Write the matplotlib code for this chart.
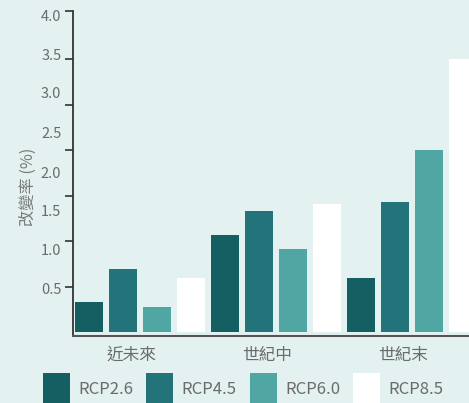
import matplotlib.pyplot as plt
from matplotlib.patches import Rectangle

plt.rcParams['font.family'] = ['Noto Sans CJK TC', 'DejaVu Sans']

# 資料
periods = ['近未來', '世紀中', '世紀末']
scenarios = ['RCP2.6', 'RCP4.5', 'RCP6.0', 'RCP8.5']
rcp26 = [0.33, 1.07, 0.60]
rcp45 = [0.70, 1.33, 1.43]
rcp60 = [0.28, 0.91, 2.00]
rcp85 = [0.60, 1.41, 3.00]
series = [rcp26, rcp45, rcp60, rcp85]
colors = ['#155f63', '#22737a', '#50a6a2', '#ffffff']

# y 軸：刻度線與標籤位置不一致（照原圖）
tick_lines = [0.5, 1.0, 1.5, 2.0, 2.5, 3.0, 3.533]
tick_texts = ['0.5', '1.0', '1.5', '2.0', '2.5', '3.0', '3.5', '4.0']
tick_text_pos = [0.48, 0.91, 1.34, 1.76, 2.19, 2.63, 3.05, 3.48]

bg = '#e3f1f0'
txt = '#6b6b6b'

fig = plt.figure(figsize=(4.69, 4.03), dpi=100, facecolor=bg)
W, H = 469, 403
x0, x1 = 72.5, 483.4
y0, y1 = 335.5, 10.7
ax = fig.add_axes([x0 / W, 1 - y0 / H, (x1 - x0) / W, (y0 - y1) / H])
ax.set_facecolor(bg)

n = len(scenarios)
for j, vals in enumerate(series):
    xs = [i * n + j for i in range(len(periods))]
    ax.bar(xs, vals, width=0.82, color=colors[j], zorder=2)

ax.set_xlim(-0.485, 11.6)
ax.set_ylim(-0.036, 3.533)

for s in ['top', 'right']:
    ax.spines[s].set_visible(False)
ax.spines['left'].set_color('#333333')
ax.spines['left'].set_linewidth(1.3)
ax.spines['bottom'].set_color('#555555')
ax.spines['bottom'].set_linewidth(1.5)

ax.set_yticks(tick_lines)
ax.set_yticklabels([])
ax.set_yticks(tick_text_pos, minor=True)
ax.set_yticklabels(tick_texts, minor=True)
ax.tick_params(axis='y', which='major', length=6, width=1.2, color='#333333')
ax.tick_params(axis='y', which='minor', length=0, pad=8, labelsize=10.5, labelcolor=txt)

ax.set_xticks([i * n + 1.24 for i in range(len(periods))])
ax.set_xticklabels(periods)
ax.tick_params(axis='x', length=0, pad=8, labelsize=12, labelcolor=txt)

ax.set_ylabel('改變率 (%)', fontsize=11.7, color='#7a7a7a')
ax.yaxis.set_label_coords(-36 / (x1 - x0), 0.457)

# 圖例
leg_x = [43, 146, 250, 353]
for k, name in enumerate(scenarios):
    fig.add_artist(Rectangle((leg_x[k] / W, 0), 27 / W, (403 - 373) / H,
                             transform=fig.transFigure, facecolor=colors[k],
                             edgecolor='none'))
    fig.text((leg_x[k] + 35) / W, 1 - 390 / H, name, fontsize=12, color=txt,
             va='center', ha='left')

fig.savefig('out.png', dpi=100, facecolor=bg)
